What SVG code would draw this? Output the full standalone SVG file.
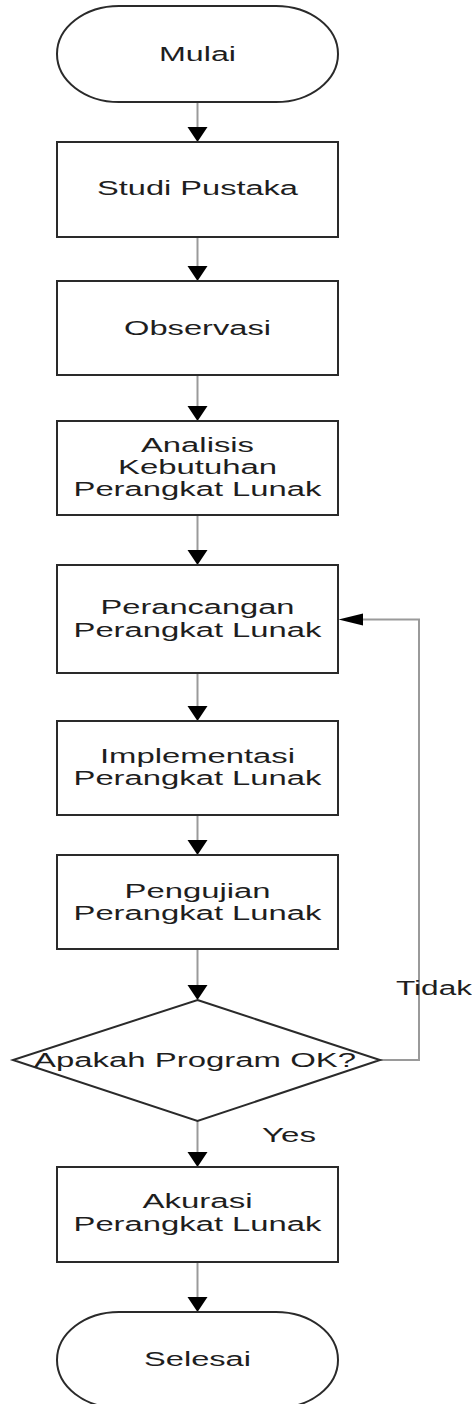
<svg xmlns="http://www.w3.org/2000/svg" width="472" height="1404" viewBox="0 0 472 1404">
<style>
.shape{fill:#fff;stroke:#2a2a2a;stroke-width:2}
.lbl{font-family:"Liberation Sans",Arial,sans-serif;font-size:20px;fill:#1e1e1e;text-anchor:middle}
.edge{fill:none;stroke:#9a9a9a;stroke-width:2}
.head{fill:#000;stroke:none}
.elbl{font-family:"Liberation Sans",Arial,sans-serif;font-size:20px;fill:#1e1e1e}
</style>
<rect width="472" height="1404" fill="#fff"/>
<g id="connectors">
<line class="edge" x1="197.5" y1="102" x2="197.5" y2="128"/>
<polygon class="head" points="187.5,127 207.5,127 197.5,142"/>
<line class="edge" x1="197.5" y1="237" x2="197.5" y2="267"/>
<polygon class="head" points="187.5,266 207.5,266 197.5,281"/>
<line class="edge" x1="197.5" y1="375" x2="197.5" y2="407"/>
<polygon class="head" points="187.5,406 207.5,406 197.5,421"/>
<line class="edge" x1="197.5" y1="515" x2="197.5" y2="551"/>
<polygon class="head" points="187.5,550 207.5,550 197.5,565"/>
<line class="edge" x1="197.5" y1="673" x2="197.5" y2="707"/>
<polygon class="head" points="187.5,706 207.5,706 197.5,721"/>
<line class="edge" x1="197.5" y1="815" x2="197.5" y2="841"/>
<polygon class="head" points="187.5,840 207.5,840 197.5,855"/>
<line class="edge" x1="197.5" y1="949" x2="197.5" y2="986"/>
<polygon class="head" points="187.5,985 207.5,985 197.5,1000"/>
<line class="edge" x1="197.5" y1="1121" x2="197.5" y2="1153"/>
<polygon class="head" points="187.5,1152 207.5,1152 197.5,1167"/>
<line class="edge" x1="197.5" y1="1262" x2="197.5" y2="1298"/>
<polygon class="head" points="187.5,1297 207.5,1297 197.5,1312"/>
<polyline class="edge" points="380,1060 419,1060 419,619.5 362,619.5"/>
<polygon class="head" points="363,613.5 363,625.5 338.5,619.5"/>
<text class="elbl" x="262" y="1142" textLength="54" lengthAdjust="spacingAndGlyphs">Yes</text>
<text class="elbl" x="396" y="995" textLength="76" lengthAdjust="spacingAndGlyphs">Tidak</text>
</g>
<g id="mulai">
<rect class="shape" x="57" y="6" width="281" height="96" rx="62" ry="48"/>
<text class="lbl" x="197.5" y="61" textLength="77" lengthAdjust="spacingAndGlyphs">Mulai</text>
</g>
<g id="studi-pustaka">
<rect class="shape" x="57" y="142" width="281" height="95"/>
<text class="lbl" x="197.5" y="195" textLength="201" lengthAdjust="spacingAndGlyphs">Studi Pustaka</text>
</g>
<g id="observasi">
<rect class="shape" x="57" y="281" width="281" height="94"/>
<text class="lbl" x="197.5" y="335" textLength="147" lengthAdjust="spacingAndGlyphs">Observasi</text>
</g>
<g id="analisis">
<rect class="shape" x="57" y="421" width="281" height="94"/>
<text class="lbl" x="197.5" y="452" textLength="113" lengthAdjust="spacingAndGlyphs">Analisis</text>
<text class="lbl" x="197.5" y="474" textLength="159" lengthAdjust="spacingAndGlyphs">Kebutuhan</text>
<text class="lbl" x="197.5" y="496" textLength="248" lengthAdjust="spacingAndGlyphs">Perangkat Lunak</text>
</g>
<g id="perancangan">
<rect class="shape" x="57" y="565" width="281" height="108"/>
<text class="lbl" x="197.5" y="614" textLength="194" lengthAdjust="spacingAndGlyphs">Perancangan</text>
<text class="lbl" x="197.5" y="637" textLength="248" lengthAdjust="spacingAndGlyphs">Perangkat Lunak</text>
</g>
<g id="implementasi">
<rect class="shape" x="57" y="721" width="281" height="94"/>
<text class="lbl" x="197.5" y="763" textLength="195" lengthAdjust="spacingAndGlyphs">Implementasi</text>
<text class="lbl" x="197.5" y="785" textLength="248" lengthAdjust="spacingAndGlyphs">Perangkat Lunak</text>
</g>
<g id="pengujian">
<rect class="shape" x="57" y="855" width="281" height="94"/>
<text class="lbl" x="197.5" y="898" textLength="146" lengthAdjust="spacingAndGlyphs">Pengujian</text>
<text class="lbl" x="197.5" y="920" textLength="248" lengthAdjust="spacingAndGlyphs">Perangkat Lunak</text>
</g>
<g id="keputusan">
<polygon class="shape" points="197.5,1000 380,1060 197.5,1121 13,1060"/>
<text class="lbl" x="195" y="1067" textLength="322" lengthAdjust="spacingAndGlyphs">Apakah Program OK?</text>
</g>
<g id="akurasi">
<rect class="shape" x="57" y="1167" width="281" height="95"/>
<text class="lbl" x="197.5" y="1208" textLength="110" lengthAdjust="spacingAndGlyphs">Akurasi</text>
<text class="lbl" x="197.5" y="1231" textLength="248" lengthAdjust="spacingAndGlyphs">Perangkat Lunak</text>
</g>
<g id="selesai">
<rect class="shape" x="57" y="1312" width="281" height="96" rx="62" ry="48"/>
<text class="lbl" x="197.5" y="1366" textLength="107" lengthAdjust="spacingAndGlyphs">Selesai</text>
</g>
</svg>
